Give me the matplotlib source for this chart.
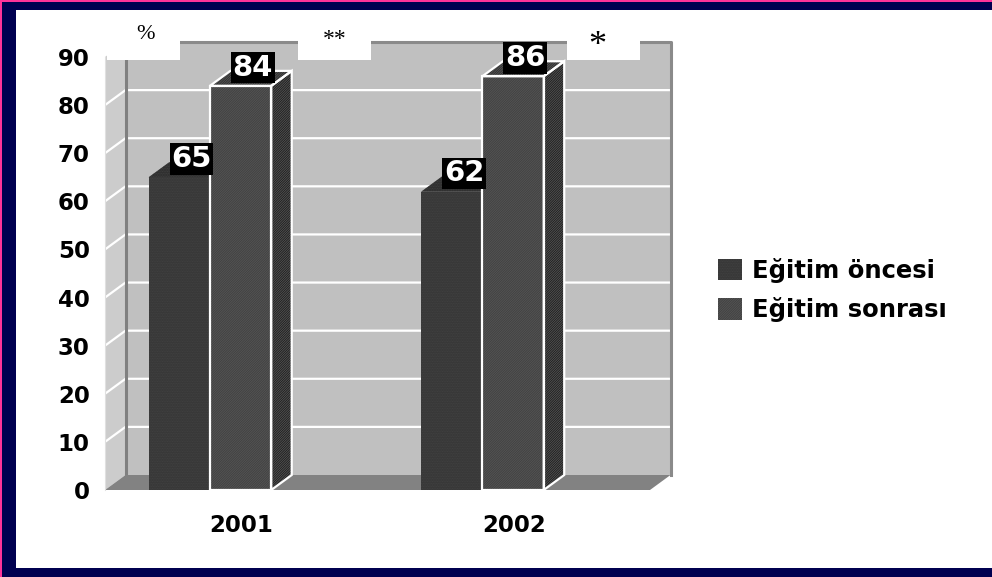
import matplotlib.pyplot as plt
from matplotlib.patches import Polygon, Rectangle, Patch

years = ['2001', '2002']
series = ['Eğitim öncesi', 'Eğitim sonrası']
before = [65, 62]
after = [84, 86]
signif = ['**', '*']
y_ticks = [0, 10, 20, 30, 40, 50, 60, 70, 80, 90]

W, H = 992, 577
plt.rcParams['hatch.linewidth'] = 0.6

fig = plt.figure(figsize=(W / 100, H / 100), dpi=100)
fig.patch.set_facecolor('white')

# frame round the slide (navy, magenta outer line)
fig.patches.append(Rectangle((0, 0), 2 / W, 1, transform=fig.transFigure, fc='#ff3399', ec='none'))
fig.patches.append(Rectangle((0, 1 - 1.5 / H), 1, 1.5 / H, transform=fig.transFigure, fc='#ff3399', ec='none'))
fig.patches.append(Rectangle((2 / W, 0), 14 / W, 1 - 1.5 / H, transform=fig.transFigure, fc='#000050', ec='none'))
fig.patches.append(Rectangle((2 / W, 1 - 10 / H), 1, 8.5 / H, transform=fig.transFigure, fc='#000050', ec='none'))
fig.patches.append(Rectangle((2 / W, 0), 1, 9 / H, transform=fig.transFigure, fc='#000050', ec='none'))

ax = fig.add_axes([105 / W, (H - 490) / H, 545 / W, (490 - 57) / H])
ax.set_xlim(0, 2)
ax.set_ylim(0, 90)
ax.patch.set_visible(False)
for s in ['top', 'right', 'bottom']:
    ax.spines[s].set_visible(False)
ax.spines['left'].set_color('#e0e0e0')
ax.spines['left'].set_linewidth(0.8)
ax.spines['left'].set_zorder(3)

# depth of the fake 3d, in data units
dx = 20.5 / 272.5
dy = 15 / 4.811
top = y_ticks[-1]

# walls and floor
ax.add_patch(Polygon([(0, 0), (dx, dy), (dx, top + dy), (0, top)], closed=True,
                     fc='#cccccc', ec='none', zorder=1, clip_on=False))
ax.add_patch(Polygon([(dx, dy), (2 + dx, dy), (2 + dx, top + dy), (dx, top + dy)], closed=True,
                     fc='#c0c0c0', ec='none', zorder=1, clip_on=False))
for t in y_ticks[1:-1]:
    ax.plot([0, dx, 2 + dx], [t, t + dy, t + dy], color='white', lw=1.6, zorder=2, clip_on=False)
ax.plot([dx, dx], [dy, top + dy], color='#808080', lw=2.2, zorder=2, clip_on=False)
ax.plot([dx, 2 + dx, 2 + dx], [top + dy, top + dy, dy], color='#8a8a8a', lw=2.2, zorder=2, clip_on=False)
ax.add_patch(Polygon([(0, 0), (2, 0), (2 + dx, dy), (dx, dy)], closed=True,
                     fc='#828282', ec='none', zorder=2, clip_on=False))


def bar3d(x0, w, v, front, side, topc, hatch, hcol, edge, z):
    x1 = x0 + w
    faces = [
        ([(x1, 0), (x1 + dx, dy), (x1 + dx, v + dy), (x1, v)], side),
        ([(x0, v), (x1, v), (x1 + dx, v + dy), (x0 + dx, v + dy)], topc),
        ([(x0, 0), (x1, 0), (x1, v), (x0, v)], front),
    ]
    for pts, c in faces:
        ax.add_patch(Polygon(pts, closed=True, fc=c, ec='none', zorder=z, clip_on=False))
        ax.add_patch(Polygon(pts, closed=True, fc='none', ec=hcol, lw=0, hatch=hatch,
                             zorder=z, clip_on=False))
        if edge:
            ax.add_patch(Polygon(pts, closed=True, fc='none', ec='white', lw=1.6,
                                 zorder=z + 0.1, clip_on=False))


off = 0.16
bw = 0.225
for i, (b, a) in enumerate(zip(before, after)):
    bar3d(i + off, bw, b, '#363636', '#222222', '#2c2c2c', '.' * 10, '#444444', False, 4)
    bar3d(i + off + bw, bw, a, '#404040', '#1c1c1c', '#2e2e2e', '/' * 14, '#555555', True, 5)
    for xc, v in [(i + off + bw / 2, b), (i + off + 1.5 * bw, a)]:
        ax.text(xc + 0.045, v + 3.8, str(v), ha='center', va='center', color='white',
                fontsize=21, fontweight='bold', zorder=7,
                bbox=dict(boxstyle='square,pad=0.06', fc='black', ec='none'))

# white boxes with the unit and significance marks
boxes = [(0.007, '%', 16, 94.6, 0.147), (0.708, signif[0], 17, 93.6, 0.844), (1.695, signif[1], 26, 92.2, 1.806)]
for bx, txt, fs, ty, tx in boxes:
    ax.add_patch(Rectangle((bx, 89.4), 0.268, 12, fc='white', ec='none', zorder=6, clip_on=False))
    ax.text(tx, ty, txt, ha='center', va='center', fontsize=fs, family='Liberation Serif',
            zorder=7, clip_on=False)

ax.set_yticks(y_ticks)
ax.set_yticklabels([str(t) for t in y_ticks], fontsize=16.5, fontweight='bold')
ax.set_xticks([0.5, 1.5])
ax.set_xticklabels(years, fontsize=16.5, fontweight='bold')
ax.tick_params(axis='y', length=0, pad=11)
ax.tick_params(axis='x', length=0, pad=17)

handles = [Patch(fc='#363636', ec='#444444', lw=0, hatch='.' * 10),
           Patch(fc='#404040', ec='#555555', lw=0, hatch='/' * 14)]
fig.legend(handles, series, loc='center left', bbox_to_anchor=(696 / W, 1 - 290 / H),
           frameon=False, handlelength=1.0, handleheight=1.0, handletextpad=0.4,
           labelspacing=0.6, prop=dict(weight='bold', size=17.5))

fig.savefig('out.png', dpi=100)
